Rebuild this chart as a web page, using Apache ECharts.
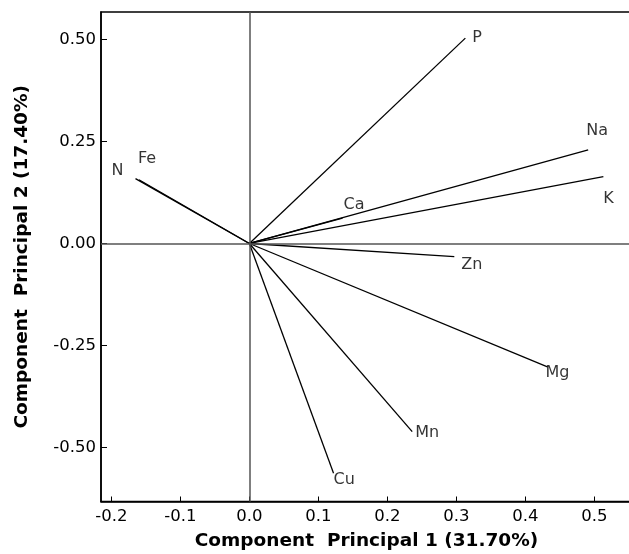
<!DOCTYPE html>
<html>
<head>
<meta charset="utf-8">
<script src="https://cdn.jsdelivr.net/npm/echarts@6/dist/echarts.min.js"></script>
<style>
  html, body { margin: 0; padding: 0; background: #fff; }
  #chart { width: 629px; height: 554px; }
</style>
</head>
<body>
<div id="chart"></div>
<script>
// PCA loadings of the measured elements on the first two components
const variables = ['P', 'Na', 'K', 'Ca', 'Zn', 'Mg', 'Mn', 'Cu', 'N', 'Fe'];
const pc1 = [0.313, 0.491, 0.513, 0.135, 0.297, 0.432, 0.236, 0.122, -0.165, -0.160];
const pc2 = [0.503, 0.229, 0.164, 0.062, -0.032, -0.302, -0.461, -0.563, 0.159, 0.156];

const xTicks = [-0.2, -0.1, 0.0, 0.1, 0.2, 0.3, 0.4, 0.5];
const yTicks = [-0.50, -0.25, 0.00, 0.25, 0.50];

// label offsets (px) from each vector tip: [dx, dy]
const labelOffsets = {
  P: [7, 0], Na: [-2, -19], K: [0, 22], Ca: [1, -13], Zn: [7, 8],
  Mg: [-2, 6], Mn: [3, 1], Cu: [0, 7], N: [-24, -8], Fe: [-1, -21]
};

const FONT = 'DejaVu Sans';
const chart = echarts.init(document.getElementById('chart'), null, { renderer: 'canvas' });

const vectors = variables.map((v, i) => ({ name: v, coords: [[0, 0], [pc1[i], pc2[i]]] }));
const tips = variables.map((v, i) => ({
  name: v,
  value: [pc1[i], pc2[i]],
  label: { position: labelOffsets[v] }
}));

chart.setOption({
  animation: false,
  backgroundColor: '#fff',
  grid: {
    left: 101, top: 12, right: -3, bottom: 52.5,
    outerBoundsMode: 'none', containLabel: false,
    show: true, borderColor: '#000', borderWidth: 1.5, backgroundColor: 'transparent'
  },
  xAxis: {
    type: 'value', min: -0.215, max: 0.5545,
    name: 'Component  Principal 1 (31.70%)', nameLocation: 'middle', nameGap: 30,
    nameTextStyle: { fontFamily: FONT, fontWeight: 'bold', fontSize: 18.5, color: '#000' },
    axisLine: { show: true, onZero: false, lineStyle: { color: '#000', width: 1.5 } },
    axisTick: { show: true, inside: true, length: 5, customValues: xTicks, lineStyle: { color: '#000' } },
    axisLabel: {
      customValues: xTicks, formatter: v => v.toFixed(1),
      fontFamily: FONT, fontSize: 16.5, color: '#000', margin: 7
    },
    splitLine: { show: false }
  },
  yAxis: {
    type: 'value', min: -0.632, max: 0.567,
    name: 'Component  Principal 2 (17.40%)', nameLocation: 'middle', nameGap: 69,
    nameTextStyle: { fontFamily: FONT, fontWeight: 'bold', fontSize: 18.5, color: '#000' },
    axisLine: { show: true, onZero: false, lineStyle: { color: '#000', width: 1.5 } },
    axisTick: { show: true, inside: true, length: 6, customValues: yTicks, lineStyle: { color: '#000' } },
    axisLabel: {
      customValues: yTicks, formatter: v => v.toFixed(2),
      fontFamily: FONT, fontSize: 16.5, color: '#000', margin: 5
    },
    splitLine: { show: false }
  },
  series: [
    {
      type: 'lines',
      coordinateSystem: 'cartesian2d',
      silent: true,
      lineStyle: { color: '#000', width: 1.3, opacity: 1 },
      data: vectors,
      markLine: {
        silent: true, symbol: 'none', label: { show: false },
        lineStyle: { color: '#555', width: 1.5, type: 'solid' },
        data: [{ xAxis: 0 }, { yAxis: 0 }]
      },
      z: 3
    },
    {
      type: 'scatter',
      symbolSize: 0,
      data: tips,
      label: {
        show: true, formatter: p => p.name,
        align: 'left', verticalAlign: 'middle',
        fontFamily: FONT, fontSize: 16, color: '#000'
      },
      z: 4
    }
  ]
});
</script>
</body>
</html>
